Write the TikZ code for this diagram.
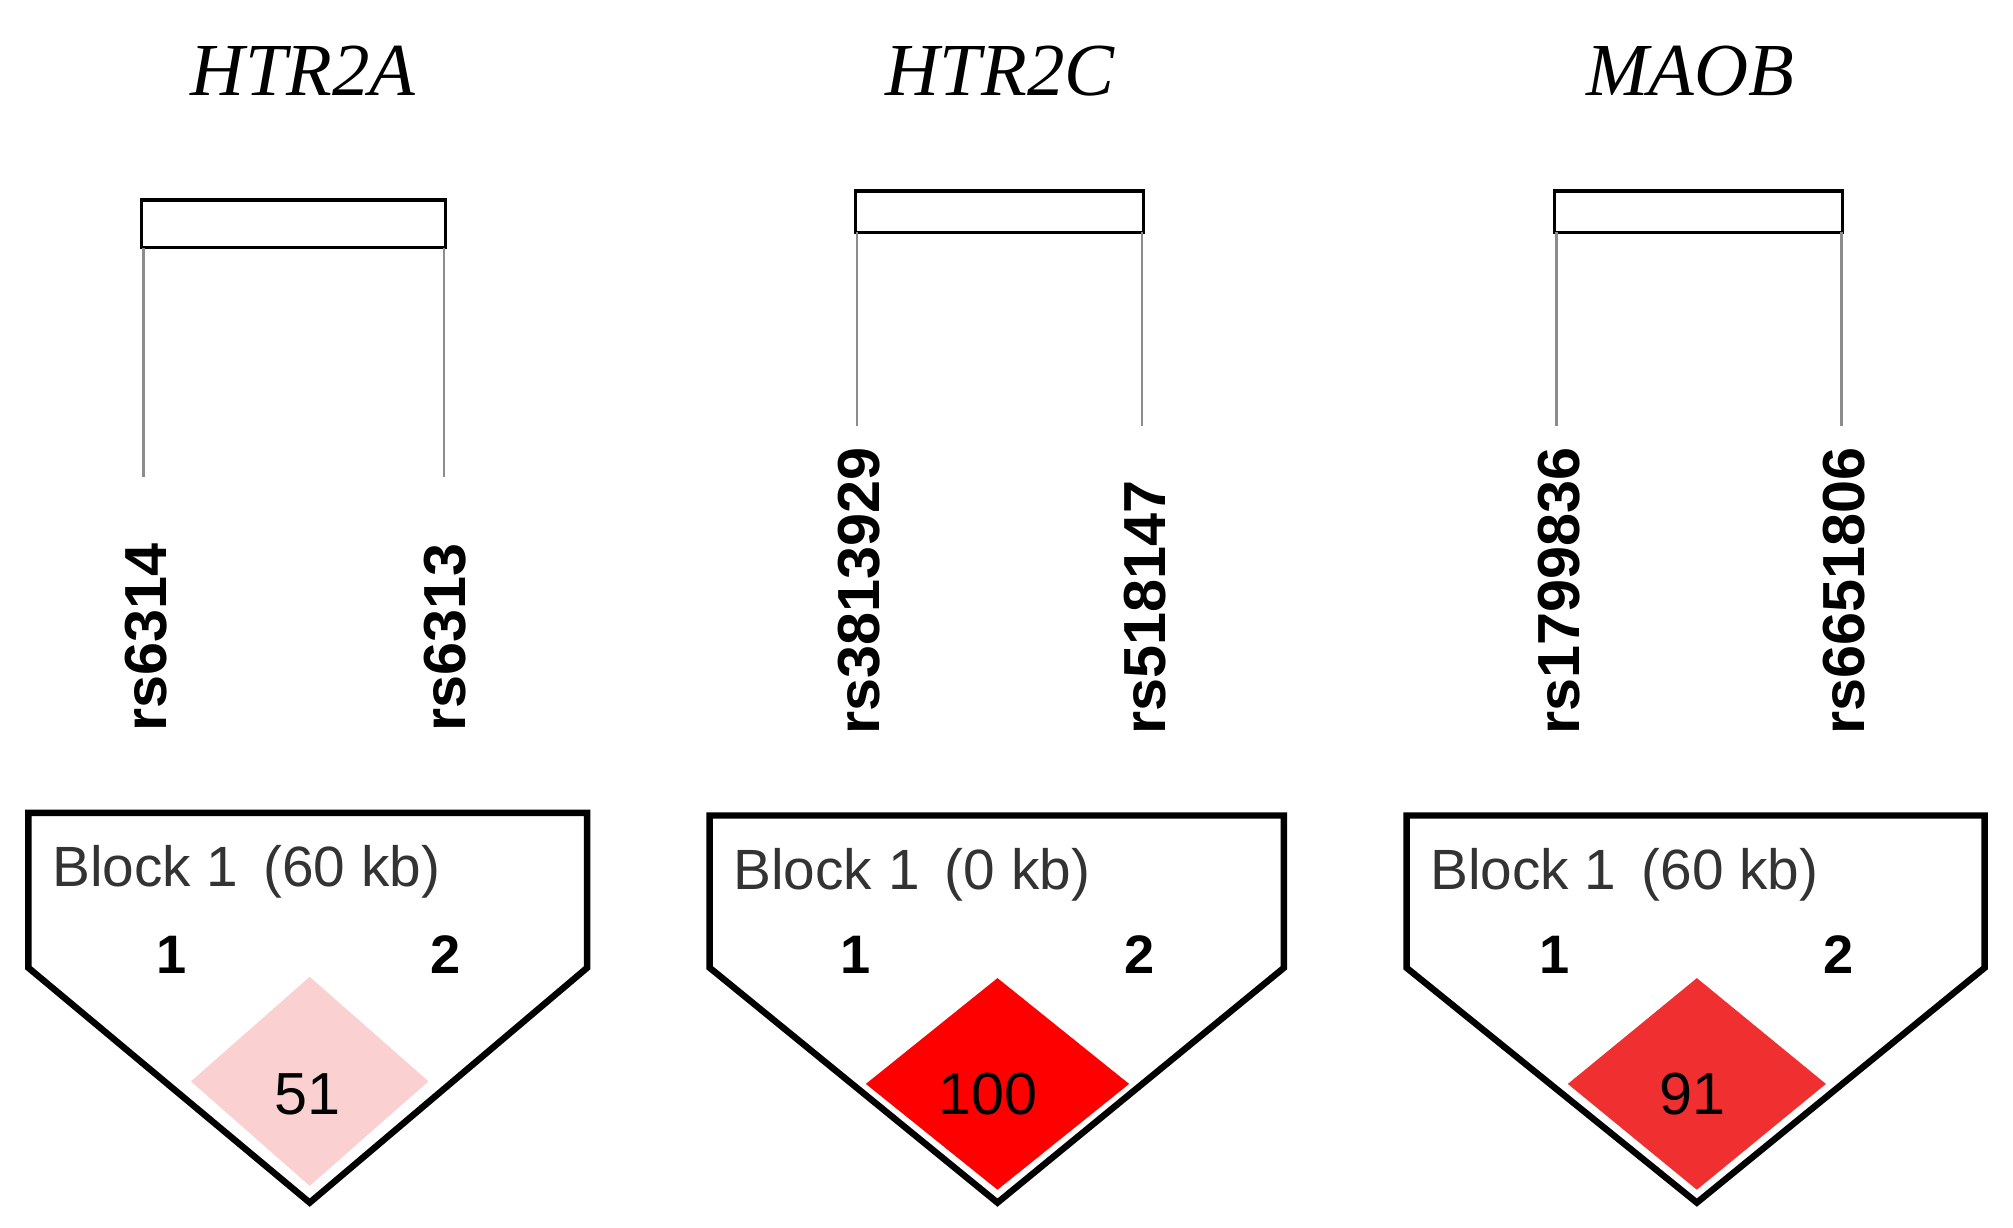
\documentclass[tikz,border=0pt]{standalone}
\usepackage{fontspec}
\setmainfont{Liberation Serif}
\setsansfont{Liberation Sans}
\begin{document}
\begin{tikzpicture}[x=0.5pt,y=-0.5pt,
  title/.style={font=\fontsize{29}{32}\selectfont\itshape},
  snp/.style={font=\sffamily\bfseries\fontsize{23}{26}\selectfont,rotate=90,anchor=west,inner sep=0},
  blk/.style={font=\sffamily\fontsize{22}{26}\selectfont,text=black!80,anchor=west,inner sep=0},
  num/.style={font=\sffamily\bfseries\fontsize{21}{24}\selectfont,inner sep=0},
  dnum/.style={font=\sffamily\fontsize{23}{26}\selectfont,inner sep=0},
  pent/.style={draw=black,line width=2.5pt,line join=miter},
  tick/.style={draw=black!45,line width=1pt},
  bx/.style={draw=black,line width=1.2pt}]
\useasboundingbox (0,0) rectangle (1560,951);
% titles
\node[title] (t1) at (235,55) {HTR2A};
\node[title] (t2) at (775,55) {HTR2C};
\node[title] (t3) at (1310,55) {MAOB};
% boxes and lines
\draw[bx] (110,155) rectangle (345,192);
\draw[bx] (663,148) rectangle (886,180);
\draw[bx] (1205,148) rectangle (1428,180);
\coordinate (a1) at (111,370); \coordinate (a2) at (344,370);
\coordinate (b1) at (664,330); \coordinate (b2) at (885,330);
\coordinate (c1) at (1206,330); \coordinate (c2) at (1427,330);
\draw[tick] (111,192) -- (a1); \draw[tick] (344,192) -- (a2);
\draw[tick] (664,180) -- (b1); \draw[tick] (885,180) -- (b2);
\draw[tick] (1206,180) -- (c1); \draw[tick] (1427,180) -- (c2);
\node[snp] (s1) at (113,567) {rs6314};
\node[snp] (s2) at (345,567) {rs6313};
\node[snp] (s3) at (666,570) {rs3813929};
\node[snp] (s4) at (887,570) {rs518147};
\node[snp] (s5) at (1208,570) {rs1799836};
\node[snp] (s6) at (1429,570) {rs6651806};
% diamonds
\fill[fill={rgb,255:red,250;green,208;blue,208}] (240,757) -- (332,838) -- (240,919) -- (148,838) -- cycle;
\fill[red] (773,758) -- (875,840) -- (773,922) -- (671,840) -- cycle;
\fill[fill={rgb,255:red,240;green,48;blue,48}] (1315,758) -- (1415,840) -- (1315,922) -- (1215,840) -- cycle;
% pentagons
\draw[pent] (22,630) -- (455,630) -- (455,750) -- (240,932) -- (22,750) -- cycle;
\draw[pent] (550,632) -- (995,632) -- (995,750) -- (773,932) -- (550,750) -- cycle;
\draw[pent] (1090,632) -- (1538,632) -- (1538,750) -- (1315,932) -- (1090,750) -- cycle;
\node[blk] (k1) at (40,676) {Block 1 \,(60 kb)};
\node[blk] (k2) at (568,678) {Block 1 \,(0 kb)};
\node[blk] (k3) at (1108,678) {Block 1 \,(60 kb)};
\node[num] (n11) at (133,740) {1}; \node[num] (n12) at (345,740) {2};
\node[num] (n21) at (663,740) {1}; \node[num] (n22) at (883,740) {2};
\node[num] (n31) at (1205,740) {1}; \node[num] (n32) at (1425,740) {2};
\node[dnum] (d1) at (238,848) {51};
\node[dnum] (d2) at (766,848) {100};
\node[dnum] (d3) at (1312,848) {91};
\end{tikzpicture}
\end{document}
